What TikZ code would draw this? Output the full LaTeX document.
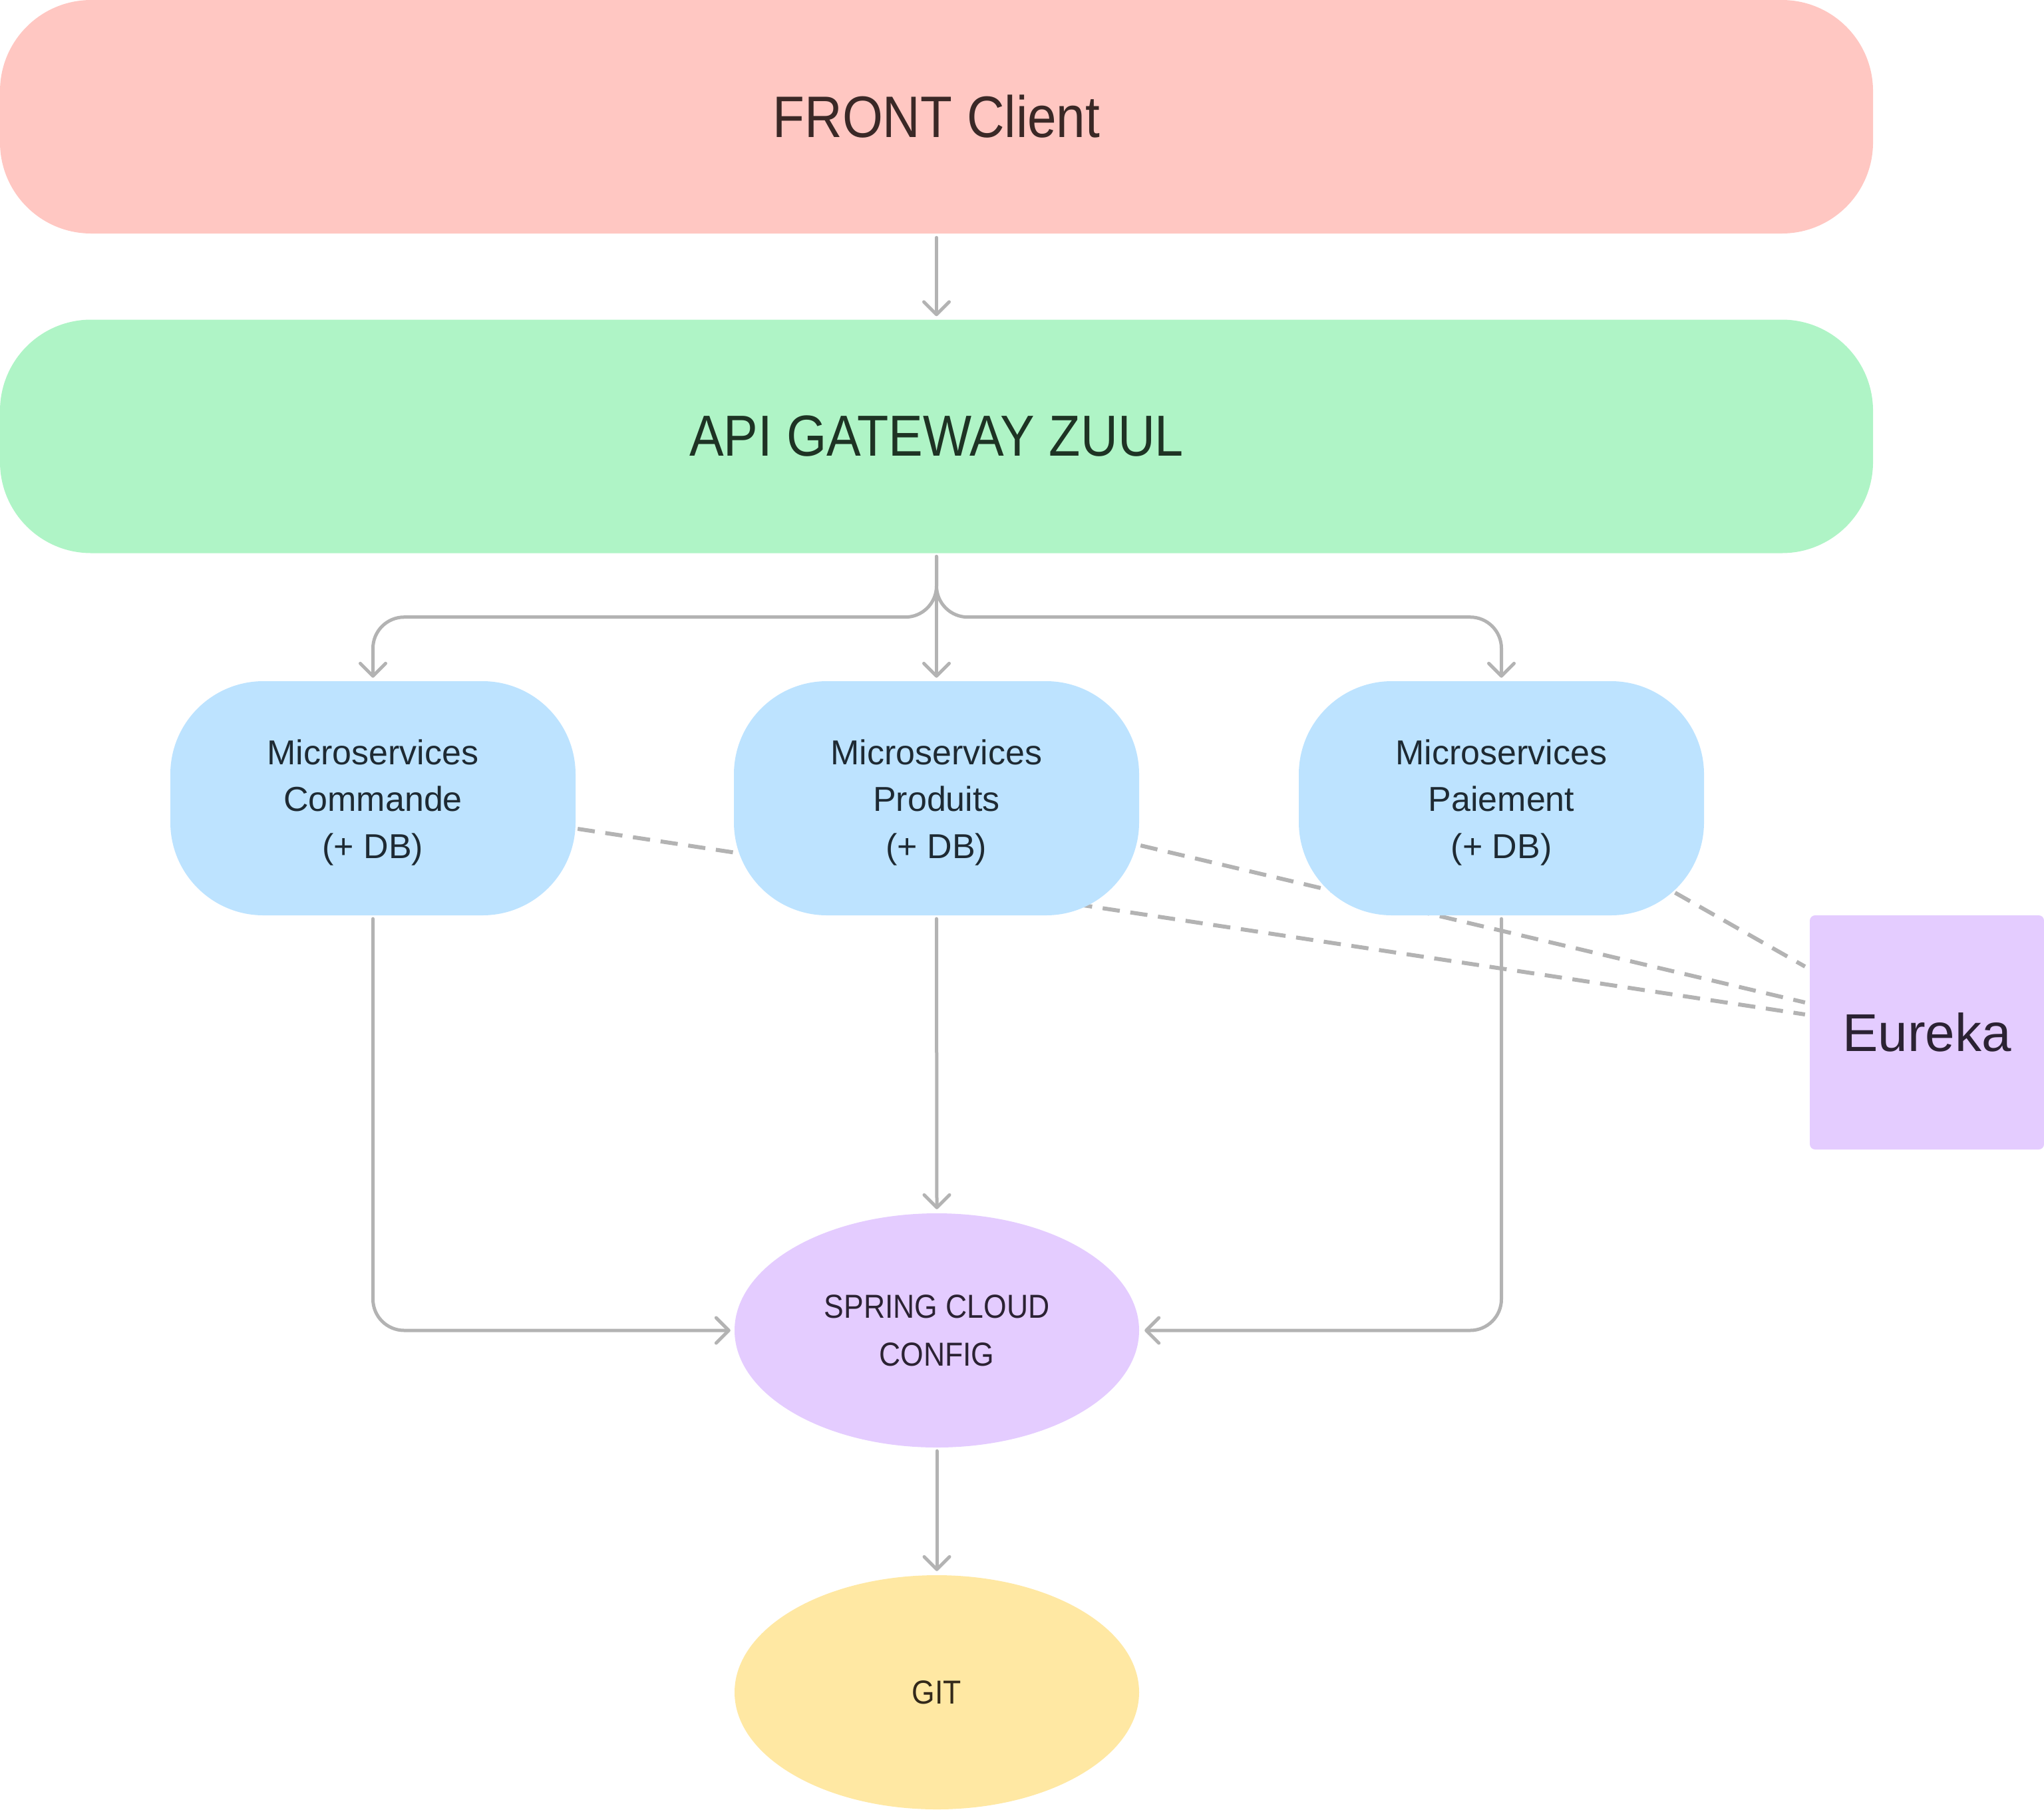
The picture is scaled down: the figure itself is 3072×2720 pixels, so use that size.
\documentclass[tikz,border=0pt]{standalone}
\usepackage{fontspec}
\setmainfont{Liberation Sans}
\newfontfamily\capsfont[FakeStretch=0.89]{Liberation Sans}
\usetikzlibrary{arrows.meta,calc,shapes.geometric}
\pgfdeclarelayer{background}
\pgfsetlayers{background,main}
\definecolor{cpink}{HTML}{FFC7C2}
\definecolor{cgreen}{HTML}{AFF4C6}
\definecolor{cblue}{HTML}{BDE3FF}
\definecolor{cviolet}{HTML}{E4CCFF}
\definecolor{cyellow}{HTML}{FFE8A3}
\definecolor{cline}{HTML}{B3B3B3}
\definecolor{tpink}{HTML}{3A2826}
\definecolor{tgreen}{HTML}{1E3324}
\definecolor{tblue}{HTML}{1E2A33}
\definecolor{tviolet}{HTML}{2B2233}
\definecolor{tyellow}{HTML}{33291A}
\begin{document}
\begin{tikzpicture}[x=1pt,y=-1pt,
  bigbox/.style={rectangle, rounded corners=137pt, inner sep=0pt,
    minimum width=2815pt, minimum height=351pt},
  msbox/.style={rectangle, rounded corners=140pt, inner sep=0pt, fill=cblue,
    minimum width=609pt, minimum height=352pt, align=center, text=tblue,
    font=\fontsize{52}{70.5}\selectfont},
  oval/.style={ellipse, inner sep=0pt, minimum width=608pt, minimum height=352pt,
    align=center, font=\capsfont\fontsize{50}{72}\selectfont},
  conn/.style={draw=cline, line width=5pt, line cap=round, line join=round,
    -{Straight Barb[length=19pt,width=38pt,round]}},
  dashline/.style={draw=cline, line width=6pt, dash pattern=on 26pt off 16pt}
]
\useasboundingbox (0,0) rectangle (3072,2720);

\node[bigbox, fill=cpink, text=tpink, font=\capsfont\fontsize{88}{100}\selectfont] (front) at (1407.5,175.5) {FRONT Client};
\node[bigbox, fill=cgreen, text=tgreen, font=\capsfont\fontsize{87}{100}\selectfont] (api) at (1407.5,656) {API GATEWAY ZUUL};

\node[msbox] (cmd) at (560.5,1200) {\rule{0pt}{50pt}Microservices\\Commande\\(+ DB)};
\node[msbox] (prd) at (1407.5,1200) {\rule{0pt}{50pt}Microservices\\Produits\\(+ DB)};
\node[msbox] (pai) at (2256.5,1200) {\rule{0pt}{50pt}Microservices\\Paiement\\(+ DB)};

\node[rectangle, rounded corners=8pt, fill=cviolet, inner sep=0pt, minimum width=352pt, minimum height=352pt,
  text=tviolet, font=\fontsize{80}{90}\selectfont] (eur) at (2896,1552) {Eureka};

\node[oval, fill=cviolet, text=tviolet] (cfg) at (1408,2000) {SPRING CLOUD\\CONFIG};
\node[oval, fill=cyellow, text=tyellow] (git) at (1408,2544) {GIT};

\begin{pgfonlayer}{background}
\draw[dashline] ($(cmd.east)+(3,46)$) -- ($(eur.west)+(-7,-27)$);
\draw[dashline] ($(prd.east)+(2,71)$) -- ($(eur.west)+(-7,-45)$);
\draw[dashline] ($(pai.center)+(261,142)$) -- ($(eur.west)+(-7,-99)$);
\end{pgfonlayer}

\draw[conn] ($(front.south)+(0,6)$) -- ($(api.north)+(0,-5)$);
\draw[conn, rounded corners=47pt] ($(api.south)+(0,5)$) -- ++(0,91) -| ($(cmd.north)+(0,-5)$);
\draw[conn] ($(api.south)+(0,5)$) -- ($(prd.north)+(0,-5)$);
\draw[conn, rounded corners=47pt] ($(api.south)+(0,5)$) -- ++(0,91) -| ($(pai.north)+(0,-5)$);

\draw[conn, rounded corners=47pt] ($(cmd.south)+(0,5)$) |- ($(cfg.west)+(-6,0)$);
\draw[conn] ($(prd.south)+(0,5)$) -- ($(cfg.north)+(0,-6)$);
\draw[conn, rounded corners=47pt] ($(pai.south)+(0,5)$) |- ($(cfg.east)+(8,0)$);
\draw[conn] ($(cfg.south)+(0,5)$) -- ($(git.north)+(0,-6)$);
\end{tikzpicture}
\end{document}
